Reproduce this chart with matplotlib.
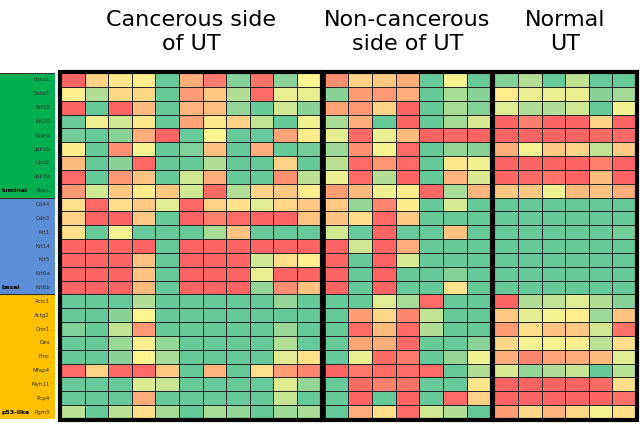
import numpy as np
import matplotlib
matplotlib.use("Agg")
import matplotlib.pyplot as plt
from matplotlib.colors import LinearSegmentedColormap
from matplotlib.patches import Rectangle

genes = ["Foxa1", "Gata3", "Krt18", "Krt20", "Pparg", "Upk1b", "Upk2", "Upk3a", "Xbp1",
         "Cd44", "Cdh3", "Krt1", "Krt14", "Krt5", "Krt6a", "Krt6b",
         "Actc1", "Actg2", "Cnn1", "Des", "Flnc", "Mfap4", "Myh11", "Pcp4", "Pgm5"]
group_names = ["luminal", "basal", "p53-like"]
group_sizes = [9, 7, 9]
group_colors = ["#00B050", "#5B8ED6", "#FFC000"]
block_titles = ["Cancerous side\nof UT", "Non-cancerous\nside of UT", "Normal\nUT"]

# 0 = rouge, 0.5 = jaune, 1 = vert (échelle)
cancerous = [
    [0, .38, .45, .47, 1, .25, .08, .9, .05, .88, .5],
    [.48, .75, .4, .4, 1, .2, .35, .75, .03, .57, .57],
    [0, 1, 0, .3, 1, .28, .32, .85, 1, .65, .88],
    [.98, .55, .65, .45, 1, .22, .45, .38, .7, 1, .55],
    [.95, 1, .88, .25, 0, 1, .5, 1, 1, .22, .47],
    [.47, 1, .15, .52, 1, .92, .32, 1, .25, 1, .95],
    [.3, 1, .88, .02, 1, 1, .75, 1, 1, .38, 1],
    [.02, 1, .18, .33, 1, .65, .25, 1, 1, .15, .72],
    [.18, .65, .35, .47, .35, .65, .03, .75, .38, .35, .48],
    [.42, .02, .42, .35, .6, .02, .38, .43, .6, .4, .35],
    [.38, 0, 0, .35, 1, 0, .1, .03, 0, 0, .33],
    [.43, 1, .52, 1, 1, 1, .78, .33, 1, 1, 1],
    [0, 0, 0, 0, 1, 0, 0, 0, 0, 0, 0],
    [0, 0, 0, .33, 1, 0, 0, 0, .65, .42, .48],
    [0, 0, 0, .33, 1, 0, 0, 0, .57, 0, 0],
    [0, 0, 0, .3, 1, 0, 0, 0, .85, .15, .32],
    [1, 1, 1, .75, 1, 1, 1, 1, 1, .85, 1],
    [1, 1, .88, .5, 1, 1, 1, 1, 1, 1, 1],
    [.92, 1, .7, .18, 1, 1, 1, 1, 1, .83, 1],
    [1, 1, .83, .48, .85, 1, 1, 1, 1, .75, 1],
    [1, 1, .88, .5, .78, 1, 1, 1, 1, .6, .43],
    [.02, .38, .02, .02, .35, 1, .28, 1, .42, .2, .12],
    [1, 1, 1, .62, .68, 1, 1, 1, 1, .6, .85],
    [1, 1, 1, .25, 1, 1, 1, 1, 1, .68, 1],
    [.72, 1, .72, .42, .8, 1, .78, .85, 1, .82, .78],
]
noncancerous = [
    [.15, .38, .35, .25, 1, .52, 1],
    [.88, .2, .18, .25, 1, .78, .88],
    [.22, .17, .38, 0, 1, .78, .9],
    [.78, .25, 1, 0, 1, .8, .62],
    [.58, .02, .57, .3, 0, .02, 0],
    [.82, .15, .52, .02, 1, .85, .88],
    [.72, .02, .17, .02, 1, .45, .55],
    [.57, .02, .75, 0, 1, .28, .62],
    [.2, .3, .55, .47, .02, .78, .28],
    [.35, .85, .12, .47, 1, .63, 1],
    [.33, .42, .02, .35, 1, 1, 1],
    [.65, 1, 0, 1, 1, .33, 1],
    [0, .65, 0, .25, 1, 1, 1],
    [0, 1, 0, .63, 1, 1, 1],
    [0, 1, 0, 1, 1, .9, 1],
    [0, 1, 0, 1, 1, .43, 1],
    [1, 1, .6, .78, .03, 1, 1],
    [1, .2, .4, .12, .7, 1, 1],
    [1, .03, .3, .02, .75, 1, 1],
    [1, .22, .25, .02, 1, 1, .88],
    [1, .57, .03, .08, 1, .85, .55],
    [0, .07, .03, .03, .03, 1, .75],
    [1, .03, .1, .05, 1, 1, .45],
    [1, 0, 1, 0, 1, .02, .38],
    [1, .25, .42, .02, .65, .75, 1],
]
normal = [
    [.9, .75, 1, .7, 1, 1],
    [.47, .57, .57, .57, .88, .8],
    [.6, .75, .75, .65, 1, .55],
    [0, .1, 0, 0, .38, 0],
    [0, 0, 0, 0, .03, .02],
    [.25, .53, .35, .38, .7, .35],
    [0, 0, 0, 0, .1, 0],
    [0, .02, .05, 0, .3, 0],
    [.35, .35, .55, .3, .33, .25],
    [1, 1, 1, 1, 1, 1],
    [1, 1, 1, 1, 1, 1],
    [1, 1, 1, 1, 1, .95],
    [1, 1, 1, 1, 1, 1],
    [1, 1, 1, 1, 1, 1],
    [1, 1, 1, 1, 1, 1],
    [1, 1, 1, 1, 1, 1],
    [0, .75, .7, .6, .75, .88],
    [.35, .58, .53, .48, .82, .33],
    [.2, .42, .33, .35, .65, .05],
    [.4, .53, .53, .48, .72, .42],
    [.25, .12, .22, .25, .3, .6],
    [.62, .85, .75, .68, 1, .72],
    [0, 0, 0, 0, .03, .42],
    [0, 0, 0, 0, 0, .05],
    [.2, .4, .28, .4, .53, .43],
]

cmap = LinearSegmentedColormap.from_list("rdylgn_xl", ["#FF6464", "#FFF590", "#66C99A"])

W, H = 640, 424
fig = plt.figure(figsize=(W / 100, H / 100), dpi=100)


def px_axes(x0, y0, x1, y1):
    """Axes placé en pixels (origine en haut à gauche)."""
    return fig.add_axes([x0 / W, 1 - y1 / H, (x1 - x0) / W, (y1 - y0) / H])


n_rows = len(genes)
gap = 0.18
ax = px_axes(61, 73, 636, 419)
blocks = [np.array(cancerous), np.array(noncancerous), np.array(normal)]
x0 = 0.0
edges = []
for data in blocks:
    nc = data.shape[1]
    xe = x0 + np.arange(nc + 1)
    ye = np.arange(n_rows + 1)
    ax.pcolormesh(xe, ye, data, cmap=cmap, vmin=0, vmax=1,
                  edgecolor="#262626", linewidth=0.6)
    edges.append((x0, x0 + nc))
    x0 += nc + gap
ax.set_xlim(0, x0 - gap)
ax.set_ylim(n_rows, 0)
ax.axis("off")

# cadres épais autour de chaque bloc + titres
for (a, b), title in zip(edges, block_titles):
    ax.add_patch(Rectangle((a - 0.06, -0.1), b - a + 0.12, n_rows + 0.2, fill=False,
                           edgecolor="black", linewidth=3, clip_on=False, zorder=5))
    xc = ax.transData.transform(((a + b) / 2, 0))[0] / W
    fig.text(xc, 1 - 32 / H, title, ha="center", va="center", fontsize=16,
             linespacing=1.2, color="black")

# barre latérale : groupes + noms de gènes
side = px_axes(0, 73, 55, 419)
side.set_xlim(0, 55)
side.set_ylim(n_rows, 0)
start = 0
for name, size, col in zip(group_names, group_sizes, group_colors):
    side.axhspan(start, start + size, color=col, lw=0)
    side.axhline(start, color="#333333", lw=0.8)
    side.text(2, start + size - 0.5, name, ha="left", va="center", fontsize=4.5,
              fontweight="bold", color="black")
    start += size
for i, g in enumerate(genes):
    side.text(50, i + 0.5, g, ha="right", va="center", fontsize=4, color="#333333")
side.axis("off")

fig.savefig("out.png", dpi=100)
